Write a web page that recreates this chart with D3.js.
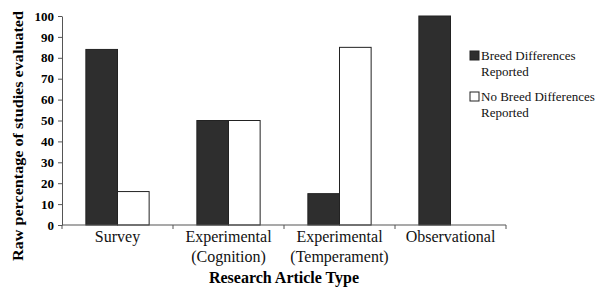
<!DOCTYPE html>
<html>
<head>
<meta charset="utf-8">
<script src="https://cdn.jsdelivr.net/npm/d3@7"></script>
<style>
  body { margin: 0; background: #fff; }
  svg text { font-family: 'Liberation Serif', 'Times New Roman', serif !important; }
</style>
</head>
<body>
<div id="chart"></div>
<script>
// data
var categories = [["Survey"], ["Experimental", "(Cognition)"], ["Experimental", "(Temperament)"], ["Observational"]];
var catKeys = ["Survey", "Cognition", "Temperament", "Observational"];
var seriesNames = ["Breed Differences Reported", "No Breed Differences Reported"];
var breedDiff = [84, 50, 15, 100];
var noBreedDiff = [16, 50, 85, 0];
var yTicks = [0, 10, 20, 30, 40, 50, 60, 70, 80, 90, 100];

var W = 597, H = 288;
var margin = {top: 16, left: 62, right: 91, bottom: 63};
var width = W - margin.left - margin.right, height = H - margin.top - margin.bottom;
var serif = "'Liberation Serif', 'Times New Roman', serif";

var svg = d3.select("#chart").append("svg")
    .attr("width", W).attr("height", H)
    .attr("font-family", serif)
    .append("g")
    .attr("transform", "translate(" + margin.left + "," + margin.top + ")");

var x = d3.scaleBand().domain(catKeys).range([0, width]).paddingInner(0).paddingOuter(0);
var xSub = d3.scaleBand().domain(seriesNames).range([x.bandwidth() * 0.215, x.bandwidth() * 0.785]);
var y = d3.scaleLinear().domain([0, 100]).range([height, 0]);
var colors = ["#2e2e2e", "#ffffff"];

// y axis
var yAxis = svg.append("g")
    .call(d3.axisLeft(y).tickValues(yTicks).tickSize(4).tickSizeOuter(0).tickPadding(4));
yAxis.attr("font-family", serif);
yAxis.select(".domain").attr("stroke", "#555");
yAxis.selectAll(".tick line").attr("stroke", "#555");
yAxis.selectAll("text").attr("font-size", 13).attr("font-weight", "bold").attr("fill", "#000");

// bars
var rows = catKeys.map(function(k, i) { return {key: k, vals: [breedDiff[i], noBreedDiff[i]]}; });
svg.append("g").selectAll("g")
    .data(rows).enter().append("g")
    .attr("transform", function(d) { return "translate(" + x(d.key) + ",0)"; })
    .selectAll("rect")
    .data(function(d) { return d.vals.map(function(v, j) { return {s: seriesNames[j], v: v, j: j}; }).filter(function(e) { return e.v > 0; }); })
    .enter().append("rect")
    .attr("x", function(d) { return xSub(d.s); })
    .attr("y", function(d) { return y(d.v); })
    .attr("width", xSub.bandwidth())
    .attr("height", function(d) { return height - y(d.v); })
    .attr("fill", function(d) { return colors[d.j]; })
    .attr("stroke", "#222").attr("stroke-width", 1);

// x axis
var xg = svg.append("g").attr("transform", "translate(0," + height + ")");
xg.append("line").attr("x1", 0).attr("x2", width).attr("y1", 0).attr("y2", 0)
    .attr("stroke", "#555").attr("stroke-width", 1.2);
xg.selectAll("line.tk").data(catKeys.concat(["end"])).enter().append("line")
    .attr("class", "tk")
    .attr("x1", function(d, i) { return i * x.bandwidth(); })
    .attr("x2", function(d, i) { return i * x.bandwidth(); })
    .attr("y1", 0).attr("y2", 4).attr("stroke", "#555");
var lbl = xg.selectAll("text.cat").data(categories).enter().append("text")
    .attr("class", "cat")
    .attr("x", function(d, i) { return x(catKeys[i]) + x.bandwidth() / 2; })
    .attr("text-anchor", "middle").attr("font-size", 16).attr("fill", "#111");
lbl.selectAll("tspan").data(function(d) { return d; }).enter().append("tspan")
    .attr("x", function() { return d3.select(this.parentNode).attr("x"); })
    .attr("y", function(d, i) { return 17 + i * 20; })
    .text(function(d) { return d; });

// axis titles
svg.append("text")
    .attr("x", width / 2).attr("y", height + 58)
    .attr("text-anchor", "middle").attr("font-size", 16).attr("font-weight", "bold")
    .text("Research Article Type");
svg.append("text")
    .attr("transform", "rotate(-90)")
    .attr("x", -120).attr("y", -39)
    .attr("text-anchor", "middle").attr("font-size", 15).attr("font-weight", "bold")
    .attr("textLength", 250).attr("lengthAdjust", "spacingAndGlyphs")
    .text("Raw percentage of studies evaluated");

// legend
var legend = svg.append("g").attr("transform", "translate(" + (470 - margin.left) + "," + (51 - margin.top) + ")");
var legLines = [["Breed Differences", "Reported"], ["No Breed Differences", "Reported"]];
legLines.forEach(function(lines, i) {
    var gy = i * 41;
    legend.append("rect").attr("x", 0).attr("y", gy).attr("width", 9).attr("height", 9)
        .attr("fill", colors[i]).attr("stroke", "#222");
    var t = legend.append("text").attr("font-size", 13).attr("fill", "#111");
    lines.forEach(function(s, k) {
        t.append("tspan").attr("x", 11).attr("y", gy + 9 + k * 16).text(s);
    });
});
</script>
</body>
</html>
